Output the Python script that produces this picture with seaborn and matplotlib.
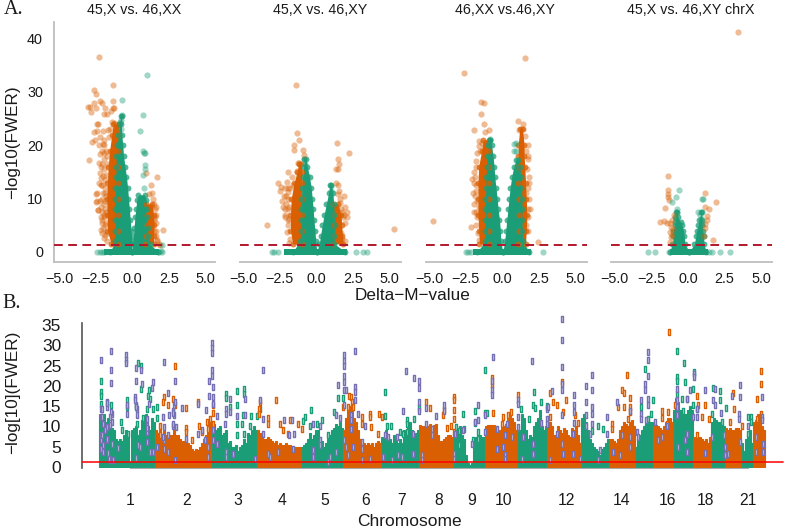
import matplotlib
matplotlib.use('Agg')
import matplotlib.pyplot as plt
import seaborn as sns
import pandas as pd

sns.set_style('white')
plt.rcParams['font.family'] = ['Liberation Sans', 'DejaVu Sans']

GREEN = '#1B9E77'
ORANGE = '#D95F02'
PURPLE = '#7570B3'
W, H = 787, 530

# panel A: volcano plots
titles = ['45,X vs. 46,XX', '45,X vs. 46,XY', '46,XX vs.46,XY', '45,X vs. 46,XY chrX']
panel_left = [54, 240, 426, 611]
panel_xlim = [(-5.35, 5.65), (-5.2, 5.8), (-5.2, 5.8), (-5.25, 5.75)]

p1_orange_x = [-2.27, -2.65, -2.5, -1.35, -2.2, -2.05, -1.3, -2.9, -3.0, -2.6, -2.45, -2.85, -1.85, -1.3, -1.25, -1.9,
               -1.75, -2.4, -1.4, -1.25, -1.15, -2.4, -2.0, -1.65, -2.98, -2.75, -2.52, -2.64, -2.34, -2.23, -2.27,
               -2.11, -2.23, -2.45, -2.45, -2.34, -2.11, -2.16, 2.09, 1.68, 0.95, 1.25, 1.14, 1.9, -1.9, -1.8, -1.7,
               -1.95, -1.75, -1.95, -2.0, -1.85, -2.05, -1.85, -2.0, -1.8, -2.1, -1.95, -2.15, -1.85, -2.05, -1.9,
               -2.1, -1.85, -2.0, -1.75, -1.7, -1.6, -1.55, -1.45, 1.55, 1.6, 1.45, 1.65, 1.5, 1.7,
               -2.4, -2.4, -2.35, -2.15, -2.15, -2.3, -2.2, -2.05, -2.1, -1.95, -2.0, -2.2, -2.25, -1.95, -1.8, -1.85,
               -1.9, -1.85, -1.95, -2.05, -2.1, -1.85, -1.8, -1.8, 1.6, 1.65, 1.55, 1.6, 1.4, 1.35, 1.45, 1.7, 1.8, 1.25]
p1_orange_y = [36.6, 30.3, 29.6, 31.2, 28.3, 28, 28.3, 27.2, 27.2, 28, 26.9, 26.3, 27, 27, 26.9, 25.9, 25.8, 24, 24.3,
               24.2, 24, 22.6, 22.6, 22.8, 17.3, 20.6, 21, 22.5, 23.9, 18.4, 16.6, 15.9, 14.7, 10.9, 9.4, 7.8, 6.6, 4.1,
               4.1, 14.1, 14.7, 12.6, 10.9, 1.3, 20, 19, 18, 17.5, 16.5, 15.5, 14.3, 13.5, 12.5, 12, 11, 10.5, 10, 9, 8.5,
               8, 7.5, 6.5, 5.5, 5, 4.5, 3.5, 2, 21.5, 23, 26.5, 8, 7, 6, 5.5, 4, 2.2,
               11, 9.5, 7.9, 12.5, 13.8, 13, 9.5, 16.5, 19, 21, 20.3, 21.5, 20, 18.5, 14.5, 11, 7, 3.2, 2.6, 6, 3.5, 9.5,
               7.5, 5.5, 4, 3, 6.5, 8.5, 10, 11, 9, 2, 1.5, 8.5]
p1_green_x = [1.0, -0.7, -0.72, 0.72, 0.55, 0.7, 0.8, 0.9, 0.85, 0.85, 0.75, 0.82, -0.75, -0.85, -0.8, 2.05, 1.95, -2.4,
              -2.2, -2.05, 2.0, -1.9, 1.85]
p1_green_y = [33.1, 28.4, 25.6, 25.6, 22.6, 18.9, 18.6, 18.5, 16.2, 15.6, 14.4, 12, 24.8, 24.3, 23, 1.2, 0.1, 0, 0, 0, 0,
              0, 0]

p2_orange_x = [-1.36, -1.32, -1.14, -1.52, -1.52, -0.91, -0.84, 1.41, 2.27, 1.48, 1.59, 1.48, -1.14, -1.25, -1.93, -1.3,
               -2.57, -2.0, -2.39, 1.36, -1.59, 1.52, 1.89, -3.34, 5.34, 2.09, 2.11, 1.6, -2.45, -2.2, -2.3, -2.05, -1.95,
               -2.15, -1.85, -1.9, -2.0, -1.8, -1.85, 1.85, 1.95, 1.7, 1.75, 2.0,
               -2.1, -1.95, -2.25, -1.95, -2.05, -2.1, -1.95, -1.85, -1.9, -2.1, -1.75, -1.65, 1.7, 1.75, 2.0, 1.9, 1.6,
               1.55, 1.5, 1.35]
p2_orange_y = [31.3, 22.2, 20.9, 20, 19.1, 19.1, 18.1, 20.4, 18.6, 17.4, 16.4, 15.6, 16.7, 16.6, 14.9, 15.1, 12.9, 13.1,
               12.2, 13, 12.6, 10.9, 10.5, 5.1, 4.2, 7.5, 6.6, 9.1, 11.5, 10.5, 9.5, 9, 8, 7, 6.2, 5, 3.7, 2.5, 1.6, 6.5,
               5.5, 3.5, 2.5, 2,
               12, 12, 8.5, 10, 10.5, 8, 6, 8.5, 11.3, 6.5, 12, 14, 8, 7.5, 8.4, 7, 10, 11.5, 12.5, 15.5]
p2_green_x = [-0.84, -0.75, -0.65, -3.0, -2.85, -2.6, 2.7, 3.2, 3.5, 1.0, 1.05]
p2_green_y = [17.5, 16.5, 14.3, 0, 0, 0, 0, 0, 0, 12.3, 11.5]

p3_orange_x = [1.59, -2.57, -1.41, -1.25, -1.43, -1.93, -1.25, -0.91, -1.14, -4.7, -2.11, 2.45, 1.11, 1.45, 1.14, 1.59,
               1.82, -2.09, -1.77, -1.95, -1.8, -1.85, -1.7, -1.55, -1.75, -1.7, -1.8, -1.65, -1.6, 1.75, 1.7, 1.85, 1.6,
               1.75, 1.65, -1.4, -1.5, 1.35,
               -1.95, -2.0, -1.85, -1.9, -1.8, -1.9, -1.75, -1.7, -1.55, -1.6, 1.8, 1.85, 1.9, 1.8, 1.8, 1.75, 1.65, 1.8]
p3_orange_y = [36.4, 33.5, 28.1, 27.9, 25.8, 22.8, 23.9, 22.9, 22.5, 5.7, 4.6, 1.9, 24.5, 24, 22.9, 21.7, 13, 13.7, 17.1,
               13, 11.5, 10.5, 9.5, 8.5, 7.5, 6.5, 5, 3.5, 2.2, 17.5, 15.5, 14, 11, 8, 5, 20.5, 19, 23,
               15, 11, 14, 9, 12.5, 7.5, 16, 18.5, 19.8, 20.8, 12, 10, 8, 6.5, 4, 20, 19, 18]
p3_green_x = [-0.84, -0.9, 0.8, 0.98, 0.8, 0.98, 2.8, -2.5, -2.3, -2.1]
p3_green_y = [21.1, 20.2, 20.3, 20.4, 18.9, 18.9, 0, 0, 0, 0]

p4_orange_x = [3.43, -1.36, -1.36, -1.36, -1.36, -1.3, 1.14, 1.2, 1.43, 1.89, -1.57, -1.91, -1.64, -1.41, -1.23, -0.95,
               -1.07, -1.18, -1.23, -1.07, -1.23, 1.7, 1.32, 1.32, 1.2, 1.2, -1.14, -1.0, 1.1]
p4_orange_y = [41.2, 14.2, 11.6, 10.9, 10.3, 9.8, 11.1, 8.4, 8, 9.3, 8.3, 5.6, 5.8, 5.4, 5.4, 6.9, 5.9, 4.7, 3.75, 3.1,
               1.9, 2.3, 6.7, 5.9, 5.2, 4.4, 2.7, 4.3, 3]
p4_green_x = [-0.61, -0.84, -1.07, 1.0, 1.02, 0.7, 0.86, -0.73, -0.73, -0.84, 0.9, 1.0, -2.73, -2.27, 2.18, 2.9, 1.66,
              1.45, -1.3]
p4_green_y = [11.6, 10.3, 9.4, 9.9, 9.9, 7.5, 7, 8.1, 7.2, 6.2, 6.2, 5.5, 0, 0, 0, 0, 0, 0, 0]

# dense parts of each volcano: height, left edge, right edge
p1_gl = ([0, 2, 4, 6, 8, 10, 12, 14, 16, 18, 20, 22, 24, 25.5],
         [-1.5, -1.18, -1.17, -1.17, -1.17, -1.17, -1.17, -1.13, -1.1, -1.1, -1.03, -0.95, -0.88, -0.78],
         [0.0, -0.03, -0.08, -0.14, -0.2, -0.26, -0.32, -0.4, -0.5, -0.6, -0.65, -0.72, -0.75, -0.72])
p1_gr = ([0, 1.5, 3, 4.5, 6.5, 8, 9.7, 10.7],
         [0.0, 0.03, 0.08, 0.12, 0.18, 0.24, 0.3, 0.42],
         [1.75, 1.2, 1.05, 1.05, 1.02, 1.0, 0.95, 0.85])
p1_ol = ([1.5, 4, 7, 10, 13, 16, 19, 22, 24],
         [-1.45, -1.7, -1.72, -1.75, -1.7, -1.65, -1.55, -1.4, -1.3],
         [-1.0, -1.0, -1.0, -1.0, -1.0, -0.95, -0.95, -0.9, -0.9])
p1_or = ([1.5, 3, 5, 7, 9],
         [0.9, 0.95, 1.0, 1.0, 0.95],
         [1.45, 1.45, 1.5, 1.45, 1.35])
p2_gl = ([0, 2, 4, 6, 8, 10, 12, 14, 16, 17.5],
         [-1.6, -1.1, -1.05, -1.02, -1.0, -1.0, -0.97, -0.92, -0.85, -0.8],
         [0.05, -0.03, -0.08, -0.15, -0.2, -0.27, -0.33, -0.45, -0.6, -0.7])
p2_gr = ([0, 1.5, 3, 5, 7, 9, 11, 12.5],
         [0.05, 0.22, 0.3, 0.42, 0.55, 0.7, 0.85, 0.97],
         [2.0, 1.25, 1.25, 1.3, 1.25, 1.2, 1.15, 1.05])
p2_ol = ([1.5, 4, 7, 10, 13, 15, 16.5],
         [-1.6, -1.75, -1.75, -1.7, -1.5, -1.3, -1.2],
         [-0.95, -0.95, -0.95, -0.95, -0.95, -0.95, -1.0])
p2_or = ([1.5, 3, 5, 7, 9],
         [1.15, 1.2, 1.25, 1.2, 1.15],
         [1.85, 1.8, 1.75, 1.7, 1.5])
p3_gl = ([0, 2, 4, 6, 8, 10, 12, 14, 16, 18, 20, 21],
         [-1.7, -1.15, -1.15, -1.15, -1.15, -1.15, -1.1, -1.1, -1.05, -1.0, -0.95, -0.85],
         [0.05, -0.1, -0.12, -0.18, -0.27, -0.34, -0.42, -0.5, -0.55, -0.62, -0.72, -0.8])
p3_gr = ([0, 2, 4, 6, 8, 10, 12, 14, 16, 17.2],
         [0.05, 0.18, 0.25, 0.32, 0.4, 0.47, 0.55, 0.65, 0.8, 0.95],
         [1.85, 1.4, 1.38, 1.36, 1.36, 1.36, 1.32, 1.28, 1.2, 1.1])
p3_ol = ([1.5, 4, 7, 10, 13, 16, 19, 21],
         [-1.55, -1.6, -1.65, -1.65, -1.65, -1.6, -1.4, -1.3],
         [-0.9, -0.9, -0.9, -0.9, -0.9, -0.9, -0.9, -0.9])
p3_or = ([1.5, 4, 7, 10, 13, 16, 18, 20, 23],
         [1.1, 1.15, 1.15, 1.15, 1.1, 1.1, 1.1, 1.1, 1.2],
         [1.6, 1.65, 1.7, 1.65, 1.6, 1.55, 1.5, 1.5, 1.4])
p4_gl = ([0, 1.5, 3, 4, 5, 5.6, 6.5, 7.5],
         [-1.25, -1.05, -1.0, -1.0, -0.9, -0.85, -0.85, -0.78],
         [0.1, -0.2, -0.25, -0.3, -0.4, -0.5, -0.7, -0.72])
p4_gr = ([0, 1.5, 3, 4, 5, 6, 7.5],
         [0.1, 0.45, 0.55, 0.6, 0.7, 0.78, 0.92],
         [1.25, 1.1, 1.08, 1.02, 0.98, 0.96, 0.94])
p4_ol = ([0, 0.1], [-1.1, -1.1], [-1.05, -1.05])
p4_or = ([0, 0.1], [1.05, 1.05], [1.1, 1.1])

base_lo = [-1.9, -2.2, -2.0, -1.2]
base_hi = [1.8, 2.1, 1.95, 1.4]

panels = [
    (p1_orange_x, p1_orange_y, p1_green_x, p1_green_y, p1_gl, p1_gr, p1_ol, p1_or),
    (p2_orange_x, p2_orange_y, p2_green_x, p2_green_y, p2_gl, p2_gr, p2_ol, p2_or),
    (p3_orange_x, p3_orange_y, p3_green_x, p3_green_y, p3_gl, p3_gr, p3_ol, p3_or),
    (p4_orange_x, p4_orange_y, p4_green_x, p4_green_y, p4_gl, p4_gr, p4_ol, p4_or),
]

# panel B: skyline height per position, one list per chromosome
chrom_heights = [
    ([13, 12, 13, 11, 12, 10, 9.5, 9, 7, 6.5, 7, 6.5, 8, 9, 8, 1.2, 9, 9.5, 10, 8, 9, 11.5, 11, 13, 10, 9, 12, 11], GREEN),
    ([9, 8.5, 9, 8, 9, 8, 7.5, 8, 8, 9, 8, 8, 7, 6.5, 6.5, 7, 6, 5.5, 4.5, 4, 4.5, 4.2, 5, 6, 7, 8, 10.5, 11], ORANGE),
    ([10, 10.5, 9, 9.5, 10, 8, 8.5, 9, 6, 6.5, 5, 5, 5.5, 4, 5, 5.5, 7, 6, 8.5, 8, 9, 10, 9], GREEN),
    ([9, 8.5, 8, 7, 7, 7.5, 7, 6.5, 6, 6.5, 5.5, 6, 5.5, 5.5, 6, 5.5, 5.5, 5, 5, 5, 5, 5], ORANGE),
    ([5, 5.5, 6, 7, 8.5, 7, 8, 9, 9, 7.5, 6.5, 5, 6, 7, 8, 9, 9.5, 10.5, 10, 11, 9.5], GREEN),
    ([9, 12, 15, 15, 14, 12, 11, 9, 7, 6.5, 6, 5.5, 6, 5.5, 6, 5, 6, 6.5, 6], ORANGE),
    ([7.5, 7, 9, 7.5, 7, 6, 8, 6.5, 6, 7, 6, 9, 8.5, 10, 11, 9, 8, 8.5, 9], GREEN),
    ([10.3, 10, 10, 10.3, 10, 10.5, 10.2, 10.3, 10.5, 8, 6.5, 6.5, 7, 7.5, 8, 8, 7.5], ORANGE),
    ([8, 8, 9, 10, 8, 7, 3, 1, 0.5, 1, 7, 7.5, 7, 8, 7.5, 7.5], GREEN),
    ([10, 10.3, 10.3, 10.3, 10.3, 9, 8.5, 9, 9.5, 10, 10.5, 12, 13, 12, 11, 9], ORANGE),
    ([10, 9, 13, 12, 9, 7, 8, 7.5, 10, 11, 12, 14, 10, 9, 10], GREEN),
    ([11, 11, 10, 8, 8, 10, 9, 8.5, 9.5, 9, 8, 7.5, 9.5, 9, 10, 8, 6], ORANGE),
    ([12, 13, 11, 9, 7, 6, 5, 4.5, 4, 3, 4.5, 5, 6, 7], GREEN),
    ([7, 7, 6.5, 6, 7, 9, 10, 11, 10.5, 10, 11, 11.5, 10], ORANGE),
    ([5, 7, 8, 9, 10, 11, 12, 11, 11], GREEN),
    ([10.3, 10.3, 10, 9.5, 9, 10, 11, 12, 12, 11], ORANGE),
    ([14, 17, 16, 14, 14, 13, 13, 14, 15, 14], GREEN),
    ([7.5, 7, 7, 7.5, 7, 6.5, 7, 6, 7.5], ORANGE),
    ([11, 12, 11.5, 11, 11, 10.5, 10], GREEN),
    ([9.5, 9, 9.5, 9, 9, 9.5, 9.5, 9], ORANGE),
    ([6, 4, 7, 8, 9, 6], GREEN),
    ([11, 11.5, 13, 12, 10, 9], ORANGE),
]
skyline_start = 100
skyline_step = 2

chrom_ticks = [130, 187, 238, 282, 325, 366, 402, 439, 472, 504, 566, 622, 667, 705, 748]
chrom_labels = ['1', '2', '3', '4', '5', '6', '7', '8', '9', '10', '12', '14', '16', '18', '21']

purple_pos = [101, 111, 126, 126, 126, 111, 111, 136, 141, 136, 142, 153, 152, 164, 175, 168, 212, 212, 212, 212, 212, 209,
              213, 209, 213, 213, 206, 217, 263, 260, 263, 284, 292, 294, 293, 344, 344, 344, 344, 344, 344, 338, 346, 355,
              355, 355, 355, 344, 340, 358, 351, 135, 136, 127, 127, 107, 107, 112, 112, 107, 101, 101, 101, 101, 101, 107,
              112, 113, 110, 118, 137, 147, 147, 147, 149, 137, 163, 164, 164, 164, 169, 173, 174, 175, 174, 173, 182, 198,
              198, 202, 205, 208, 208, 175, 186, 213, 213, 217, 226, 226, 230, 245, 245, 237, 230, 226, 226, 233, 225, 255,
              263, 268, 270, 278, 289, 313, 313, 313, 320, 320, 320, 330, 328, 336, 336, 344, 346, 348, 351, 351, 353, 362,
              362, 362, 370, 365, 383, 392, 385, 388, 397, 398,
              406, 414, 419, 419, 419, 403, 419, 426, 426, 436, 444, 444, 432, 432, 422, 422, 413, 413, 402, 454, 454, 455,
              463, 472, 478, 475, 478, 485, 485, 497, 497, 503, 505, 505, 493, 492, 492, 492, 507, 505, 512, 518, 518, 518,
              518, 532, 541, 547, 548, 547, 547, 533, 533, 522, 523, 550, 552, 562, 562, 562, 562, 562, 562, 562, 563, 557,
              574, 574, 574, 574, 573, 573, 580, 586, 592, 592, 592, 592, 586, 586, 592, 590, 586, 600, 607, 607, 598, 617,
              622, 620, 630, 630, 630, 613, 637, 641, 641, 641, 645, 645, 648, 648, 648, 648, 648, 646, 638, 655, 667, 662,
              658, 677, 677, 677, 677, 687, 690, 694, 694, 697, 697, 693, 705, 713, 715, 715, 721, 724, 725, 725, 728, 740,
              740, 732, 739, 739, 740, 748, 756, 756, 762, 762, 762, 763, 763, 687, 678, 685, 687, 705, 712,
              102, 102, 107, 111, 110, 103, 105, 110, 102, 107, 103, 103, 108, 109, 113, 135, 136, 138, 140, 147, 147, 150,
              153, 136, 157, 163, 168, 168, 173, 173, 176]
purple_val = [26.4, 28.5, 27.5, 26.4, 25.6, 24, 20.7, 24.3, 23.8, 21.1, 20.5, 20.9, 19.5, 25.8, 21.1, 18.2, 30.5, 29.3, 28.1,
              23.9, 22.5, 21.3, 19.7, 17.5, 17.2, 15.6, 14.1, 12.5, 24, 16.6, 11.9, 11.6, 11.5, 8.2, 4.5, 27.5, 26.2, 24.8,
              22.5, 20.9, 19, 20.1, 19, 28.5, 19.8, 18.4, 16.6, 15.2, 12.1, 13, 12.7, 17.2, 15.2, 13.1, 15.2, 16, 14.8, 13.1,
              11.1, 9.8, 14.3, 12.3, 7.8, 6.6, 4.5, 6.6, 5.7, 1.6, 1.6, 4.7, 14.3, 11.9, 10.2, 8.6, 15.6, 12.7, 12.3, 9.8,
              6.6, 4.5, 12.7, 13.9, 15.2, 16, 12.7, 10.2, 14.5, 15.6, 8.2, 9, 6.6, 4.9, 2.5, 1.8, 7, 9, 6.6, 5.7, 14.3, 13.1,
              16.8, 16.8, 12.9, 12.5, 13.5, 3.7, 2.5, 3.3, 10.7, 2, 8.2, 3.3, 2.5, 3.7, 7.8, 10.7, 4.1, 2.5, 6.6, 5.3, 10.2,
              2.5, 1.2, 3.7, 12.7, 6.6, 4.9, 2.9, 11.5, 9.4, 4.9, 6.1, 4.5, 1.8, 2, 10, 2.5, 1.6, 7.8, 7.4, 7.4, 2.9,
              23.6, 21.9, 21.3, 19.4, 16.1, 13.8, 13.8, 14.6, 10.7, 12.5, 15.4, 13.9, 9.4, 7.8, 2.9, 1.6, 3.3, 8.2, 2.5, 3.3,
              2, 8.2, 9, 5.7, 15.3, 11.1, 11.5, 12.7, 8.6, 9.4, 4.5, 4.9, 2.9, 2, 27, 21.3, 19, 17.8, 10.7, 7.8, 7.4, 16.4,
              15.6, 12.3, 9.8, 26.1, 10.8, 14.3, 14.8, 11.9, 10.7, 5.7, 3.3, 2, 7.4, 1.6, 18.7, 36.6, 31.3, 24.6, 20.5, 18.9,
              12.7, 5.7, 3.3, 8.2, 17.8, 15.2, 13.5, 10.9, 8.2, 3.3, 2, 19.9, 22.8, 18.9, 14.8, 13.1, 16, 12.7, 10.7, 8.2,
              10.2, 4.1, 8.2, 12.3, 1.6, 16, 7.8, 2.9, 13.9, 7.4, 4.9, 3.7, 8.6, 16.4, 13.1, 11.9, 20.5, 18.9, 28.3, 26.4,
              22.5, 16.8, 15.2, 11.5, 7.4, 11.1, 10, 7.4, 6.6, 19.3, 16.4, 14.8, 12.7, 16.8, 18.9, 23, 22.3, 14.3, 12.3, 12.3,
              19.1, 16.4, 19.3, 15.2, 13.3, 7.8, 4.9, 2.9, 3.3, 20.1, 17.2, 17.5, 13.1, 11.9, 6.1, 10.2, 7.4, 3.7, 12.3, 11.5,
              17.2, 5.7, 3.7, 8.2, 4.9, 6.6, 3.7, 3.4, 7.4,
              14.4, 12.4, 15.7, 13.6, 12.4, 10.7, 9.1, 10.3, 7.9, 7, 5.4, 3.8, 3.4, 1.9, 1.7, 16.5, 14.8, 5.4, 5, 9.5, 6.2,
              3.8, 3.8, 2.1, 5, 7.5, 7.9, 3.8, 13.2, 10.7, 9.9]

orange_pos = [175, 164, 173, 163, 168, 175, 186, 198, 160, 186, 160, 186, 192, 199, 202, 213, 213, 210, 208, 207, 213, 260,
              259, 259, 276, 268, 268, 280, 283, 288, 290, 298, 302, 343, 349, 348, 351, 352, 353, 350, 370, 370, 379, 382,
              378, 362, 362, 371,
              426, 430, 443, 444, 454, 454, 454, 454, 451, 447, 454, 492, 492, 493, 518, 511, 508, 503, 502, 550, 553, 557,
              562, 566, 563, 550, 578, 575, 622, 624, 627, 630, 624, 618, 612, 612, 630, 630, 628, 669, 675, 662, 662, 668,
              697, 705, 698, 702, 709, 697, 733, 734, 730, 742, 761, 761, 757, 761, 757, 667]
orange_val = [25, 17.2, 16.8, 16, 15.2, 15.2, 14.6, 16, 10.2, 9.7, 7.8, 8.6, 6.7, 10.2, 8.6, 13.3, 15.2, 11.9, 9.4, 11.1, 10.7,
              16, 14.3, 13.1, 16.6, 12.1, 10.5, 10.5, 9, 8.2, 11.6, 10.7, 9.4, 14.8, 17.4, 14.8, 17.2, 16, 14.8, 12.7, 13.1,
              12.3, 13, 12.3, 8.2, 12.3, 10.7, 9.8,
              16, 14.6, 12.9, 14.1, 17.2, 16.4, 14.1, 11.9, 10, 9.6, 8.6, 22, 20.1, 13.4, 17.8, 13.5, 12.7, 12.3, 10.5, 18.3,
              16.1, 15.2, 20.9, 16.4, 13.5, 12.3, 10.8, 12.7, 19.1, 18.2, 22.8, 17, 14.8, 14.9, 10.7, 9.4, 14.8, 13.5, 11.9,
              33.2, 15.4, 13.9, 12.1, 13.5, 17.4, 15.2, 15.2, 12.3, 11.9, 7.8, 18.2, 14.3, 11.1, 10.2, 23.6, 20.5, 16.8, 13.1,
              11.9, 10.7]

green_pos = [101, 101, 101, 101, 111, 121, 127, 127, 122, 128, 136, 137, 138, 141, 141, 148, 149, 150, 147, 153, 157, 157,
             143, 226, 226, 237, 244, 244, 237, 230, 243, 251, 257, 260, 237, 242, 250, 244, 237, 305, 303, 311, 310, 322,
             317, 334, 338, 343, 385, 385, 391, 387, 400, 328,
             485, 419, 414, 407, 407, 403, 407, 463, 456, 459, 464, 459, 475, 475, 478, 478, 473, 485, 487, 534, 541, 533,
             535, 521, 529, 547, 598, 603, 592, 641, 653, 651, 648, 645, 677, 677, 677, 684, 685, 693, 694, 682, 687, 683,
             693, 697, 677, 713, 720, 720, 726, 712, 722, 748, 751, 751, 748]
green_val = [21.1, 18.4, 17.6, 15.6, 15.4, 11.1, 16.4, 14.8, 9, 8.2, 14.8, 10.7, 25.7, 24.9, 19.3, 17.6, 18.9, 16.8, 14.3, 14.3,
             14.8, 12.1, 12.1, 18, 17, 18.7, 19.3, 18, 15.4, 14.8, 12.7, 12.5, 12.5, 14.3, 10.7, 10.7, 10.2, 8.2, 7.8, 12.3,
             11.3, 14.1, 10.2, 11.5, 10.7, 13.5, 17, 17, 18.6, 12.5, 10.2, 10.2, 8.6, 7.8,
             23.8, 14.6, 11.9, 11.5, 10.7, 8.2, 8.6, 13, 9.8, 8.8, 9.4, 5.3, 13.8, 10.9, 8.6, 7, 6.6, 13.3, 13.4, 18.4, 16,
             15.2, 14.6, 14.3, 11.9, 15.1, 10.2, 9.4, 8.8, 14.8, 16.4, 13.1, 11.9, 24.2, 28.7, 22.3, 21.1, 25.7, 20.9, 19.3,
             23.4, 16.8, 16.8, 13.9, 15.4, 14.3, 18, 19.5, 18.7, 16.4, 14.5, 13.1, 11.1, 12.3, 12.3, 11.1, 8.2]


def axes_px(fig, left, top, right, bottom):
    return fig.add_axes([left / W, 1 - bottom / H, (right - left) / W, (bottom - top) / H])


def text_px(fig, x, y, s, **kw):
    fig.text(x / W, 1 - y / H, s, ha=kw.pop('ha', 'center'), va='center', **kw)


fig = plt.figure(figsize=(W / 100, H / 100), dpi=100)

for i, (ox, oy, gx, gy, gl, gr, ol, or_) in enumerate(panels):
    ax = axes_px(fig, panel_left[i], 22, panel_left[i] + 161, 262)
    for band, col in [(ol, ORANGE), (or_, ORANGE), (gl, GREEN), (gr, GREEN)]:
        if band is gl:
            ax.fill_between([base_lo[i], base_hi[i]], -0.5, 0.5, color=GREEN, lw=0)
        ax.fill_betweenx(band[0], band[1], band[2], color=col, lw=0)
        if band[0][-1] > 1:
            sns.scatterplot(x=band[1] + band[2], y=band[0] + band[0], color=col, s=18, alpha=0.75,
                            linewidth=0, ax=ax, zorder=3)
    sns.scatterplot(x=ox, y=oy, color=ORANGE, s=20, alpha=0.42, linewidth=0, ax=ax, zorder=4)
    sns.scatterplot(x=gx, y=gy, color=GREEN, s=20, alpha=0.42, linewidth=0, ax=ax, zorder=5)
    ax.axhline(1.3, color='#B2182B', lw=1.4, ls=(0, (4.5, 2.8)), zorder=6)
    ax.set_xlim(panel_xlim[i])
    ax.set_ylim(-1.9, 43.1)
    ax.set_xticks([-5, -2.5, 0, 2.5, 5])
    ax.set_xticklabels(['\u22125.0', '\u22122.5', '0.0', '2.5', '5.0'])
    ax.tick_params(axis='x', labelsize=10.4, length=0, pad=7, labelcolor='#1a1a1a')
    ax.tick_params(axis='y', labelsize=10.4, length=0, pad=8, labelcolor='#1a1a1a')
    if i == 0:
        ax.set_yticks([0, 10, 20, 30, 40])
        ax.spines['left'].set_color('#BEBEBE')
        ax.spines['left'].set_linewidth(1.3)
    else:
        ax.set_yticks([])
        ax.spines['left'].set_visible(False)
    ax.spines['bottom'].set_color('#BEBEBE')
    ax.spines['bottom'].set_linewidth(1.3)
    ax.spines['top'].set_visible(False)
    ax.spines['right'].set_visible(False)
    ax.patch.set_alpha(0)
    text_px(fig, [134, 320, 505, 691][i], 9.5, titles[i], fontsize=10.3, color='#1a1a1a')

text_px(fig, 413, 296, 'Delta\u2212M\u2212value', fontsize=12.3, color='#1a1a1a')
text_px(fig, 13, 142, '\u2212log10(FWER)', fontsize=12.3, rotation=90, color='#1a1a1a')
text_px(fig, 4, 10, 'A.', ha='left', fontsize=14.5, family='Liberation Serif', color='#1a1a1a')
text_px(fig, 2, 303, 'B.', ha='left', fontsize=14.5, family='Liberation Serif', color='#1a1a1a')

# panel B
rows = []
pos = skyline_start
for heights, col in chrom_heights:
    for h in heights:
        rows.append({'pos': pos, 'height': h, 'col': col})
        pos += skyline_step
sky = pd.DataFrame(rows)

ax = axes_px(fig, 82, 323, 787, 468)
sns.barplot(data=sky, x='pos', y='height', hue='col', palette={GREEN: GREEN, ORANGE: ORANGE}, native_scale=True,
            dodge=False, width=1, saturation=1, legend=False, ax=ax, zorder=2)
# close the seams between neighbouring bars
for p in ax.patches:
    p.set_edgecolor(p.get_facecolor())
    p.set_linewidth(0.8)

rect = [(-0.5, -1), (0.5, -1), (0.5, 1), (-0.5, 1), (-0.5, -1)]
for px, py, col, face in [(green_pos, green_val, GREEN, '#bfe3d8'), (orange_pos, orange_val, ORANGE, '#f7dcc8'),
                          (purple_pos, purple_val, PURPLE, '#d5d3e8')]:
    sns.scatterplot(x=px, y=py, marker=rect, s=14, color=col, facecolor=face, edgecolor=col, linewidth=1.0,
                    ax=ax, zorder=3, clip_on=False)
ax.axhline(1.3, xmax=(783 - 82) / (787 - 82), color='#FF0000', lw=1.3, alpha=0.85, zorder=5)
ax.set_xlim(82, 787)
ax.set_ylim(-0.25, 35.5)
ax.set_xticks(chrom_ticks)
ax.set_xticklabels(chrom_labels)
ax.set_yticks([0, 5, 10, 15, 20, 25, 30, 35])
ax.set_xlabel('')
ax.set_ylabel('')
ax.tick_params(axis='x', labelsize=11.3, length=0, pad=18, labelcolor='#1a1a1a')
ax.tick_params(axis='y', labelsize=12.5, length=0, pad=15, labelcolor='#1a1a1a')
ax.spines['left'].set_color('#555555')
ax.spines['left'].set_linewidth(1.2)
ax.spines['bottom'].set_bounds(130, 748)
ax.spines['bottom'].set_color('#AAAAAA')
ax.spines['bottom'].set_linewidth(0.8)
ax.spines['top'].set_visible(False)
ax.spines['right'].set_visible(False)
ax.patch.set_alpha(0)

text_px(fig, 409, 522, 'Chromosome', fontsize=12.5, color='#1a1a1a')
text_px(fig, 13, 392, '\u2212log[10](FWER)', fontsize=12.3, rotation=90, color='#1a1a1a')

fig.savefig('out.png', dpi=100)
